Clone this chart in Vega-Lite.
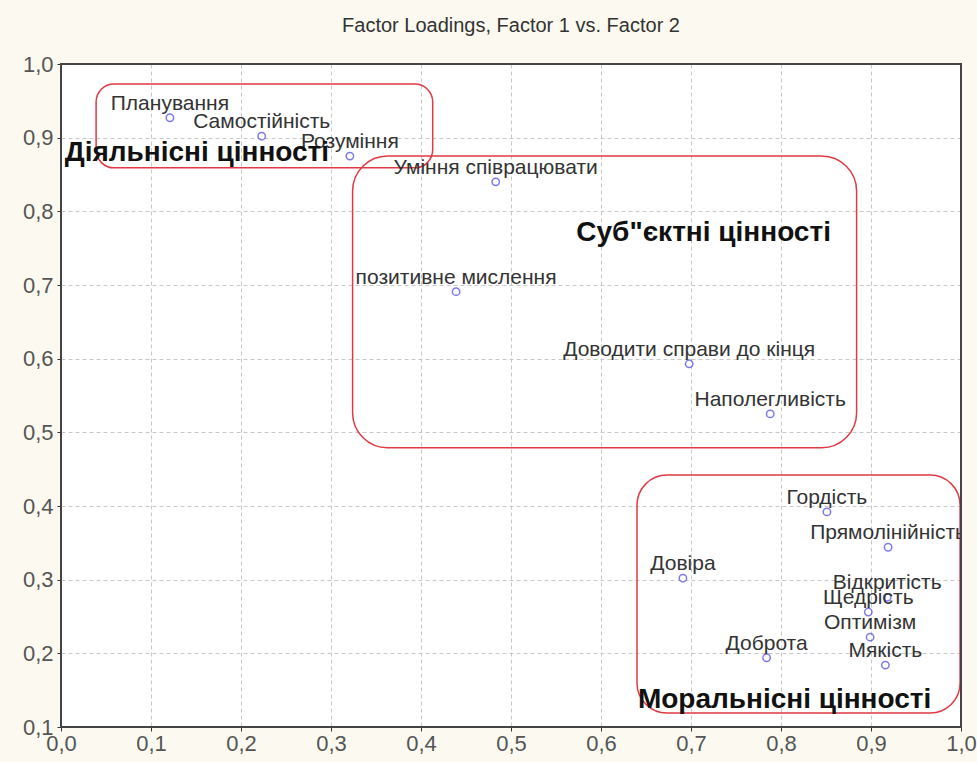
{
  "$schema": "https://vega.github.io/schema/vega-lite/v6.json",
  "autosize": {"type": "none"},
  "width": 900,
  "height": 663,
  "padding": {"left": 61, "top": 64, "right": 16, "bottom": 35},
  "background": "#fcfaf0",
  "title": {"text": "Factor Loadings, Factor 1 vs. Factor 2", "fontSize": 20, "fontWeight": "normal", "color": "#333333", "offset": 17, "font": "Liberation Sans"},
  "datasets": {
    "points": [
      {"label": "Планування", "f1": 0.121, "f2": 0.927},
      {"label": "Самостійність", "f1": 0.223, "f2": 0.902},
      {"label": "Розуміння", "f1": 0.321, "f2": 0.875},
      {"label": "Уміння співрацювати", "f1": 0.483, "f2": 0.84},
      {"label": "позитивне мислення", "f1": 0.439, "f2": 0.691},
      {"label": "Доводити справи до кінця", "f1": 0.698, "f2": 0.593},
      {"label": "Наполегливість", "f1": 0.788, "f2": 0.525},
      {"label": "Гордість", "f1": 0.851, "f2": 0.392},
      {"label": "Прямолінійність", "f1": 0.919, "f2": 0.344},
      {"label": "Довіра", "f1": 0.691, "f2": 0.302},
      {"label": "Відкритість", "f1": 0.918, "f2": 0.276},
      {"label": "Щедрість", "f1": 0.897, "f2": 0.256},
      {"label": "Оптимізм", "f1": 0.899, "f2": 0.222},
      {"label": "Мякість", "f1": 0.916, "f2": 0.184},
      {"label": "Доброта", "f1": 0.784, "f2": 0.194}
    ],
    "groups": [
      {"name": "Діяльнісні цінності", "x": 0.151, "y": 0.879},
      {"name": "Суб\"єктні цінності", "x": 0.714, "y": 0.771},
      {"name": "Моральнісні цінності", "x": 0.804, "y": 0.137}
    ]
  },
  "layer": [
    {
      "data": {"values": [{"x1": 0.039, "x2": 0.413, "y1": 0.973, "y2": 0.859}]},
      "mark": {"type": "rect", "fill": null, "stroke": "#e03a44", "strokeWidth": 1.5, "cornerRadius": 18},
      "encoding": {
        "x": {"field": "x1", "type": "quantitative", "scale": {"domain": [0, 1], "nice": false, "zero": false},
          "axis": {"title": null, "values": [0, 0.1, 0.2, 0.3, 0.4, 0.5, 0.6, 0.7, 0.8, 0.9, 1.0], "format": ".1f", "labelExpr": "replace(datum.label, '.', ',')"}},
        "x2": {"field": "x2"},
        "y": {"field": "y1", "type": "quantitative", "scale": {"domain": [0.1, 1], "nice": false, "zero": false},
          "axis": {"title": null, "values": [0.1, 0.2, 0.3, 0.4, 0.5, 0.6, 0.7, 0.8, 0.9, 1.0], "format": ".1f", "labelExpr": "replace(datum.label, '.', ',')"}},
        "y2": {"field": "y2"}
      }
    },
    {
      "data": {"values": [{"x1": 0.324, "x2": 0.884, "y1": 0.875, "y2": 0.479}]},
      "mark": {"type": "rect", "fill": null, "stroke": "#e03a44", "strokeWidth": 1.5, "cornerRadius": 35},
      "encoding": {
        "x": {"field": "x1", "type": "quantitative"},
        "x2": {"field": "x2"},
        "y": {"field": "y1", "type": "quantitative"},
        "y2": {"field": "y2"}
      }
    },
    {
      "data": {"values": [{"x1": 0.64, "x2": 0.999, "y1": 0.442, "y2": 0.119}]},
      "mark": {"type": "rect", "fill": null, "stroke": "#e03a44", "strokeWidth": 1.5, "cornerRadius": 30},
      "encoding": {
        "x": {"field": "x1", "type": "quantitative"},
        "x2": {"field": "x2"},
        "y": {"field": "y1", "type": "quantitative"},
        "y2": {"field": "y2"}
      }
    },
    {
      "data": {"name": "points"},
      "mark": {"type": "point", "shape": "circle", "filled": false, "stroke": "#4646e0", "strokeWidth": 1.5, "size": 55},
      "encoding": {
        "x": {"field": "f1", "type": "quantitative"},
        "y": {"field": "f2", "type": "quantitative"}
      }
    },
    {
      "data": {"name": "points"},
      "mark": {"type": "text", "fontSize": 21, "color": "#333333", "baseline": "middle", "align": "center", "dy": -14, "clip": true, "font": "Liberation Sans"},
      "encoding": {
        "x": {"field": "f1", "type": "quantitative"},
        "y": {"field": "f2", "type": "quantitative"},
        "text": {"field": "label"}
      }
    },
    {
      "data": {"name": "groups"},
      "mark": {"type": "text", "fontSize": 28, "fontWeight": "bold", "color": "#111111", "baseline": "middle", "align": "center", "font": "Liberation Sans"},
      "encoding": {
        "x": {"field": "x", "type": "quantitative"},
        "y": {"field": "y", "type": "quantitative"},
        "text": {"field": "name"}
      }
    },
    {
      "data": {"values": [{"x1": 0, "x2": 1, "y1": 0.1, "y2": 1}]},
      "mark": {"type": "rect", "fill": null, "stroke": "#444444", "strokeWidth": 2},
      "encoding": {
        "x": {"field": "x1", "type": "quantitative"},
        "x2": {"field": "x2"},
        "y": {"field": "y1", "type": "quantitative"},
        "y2": {"field": "y2"}
      }
    }
  ],
  "config": {
    "font": "Liberation Sans",
    "view": {"stroke": null, "fill": "white"},
    "axis": {
      "labelFontSize": 22,
      "labelColor": "#555555",
      "tickSize": 4,
      "tickColor": "#333333",
      "domain": false,
      "grid": true,
      "gridDash": [4, 3],
      "gridColor": "#c8c8c8",
      "labelFlush": false,
      "labelOverlap": false
    },
    "axisX": {"labelPadding": 2},
    "axisY": {"labelPadding": 4}
  }
}
